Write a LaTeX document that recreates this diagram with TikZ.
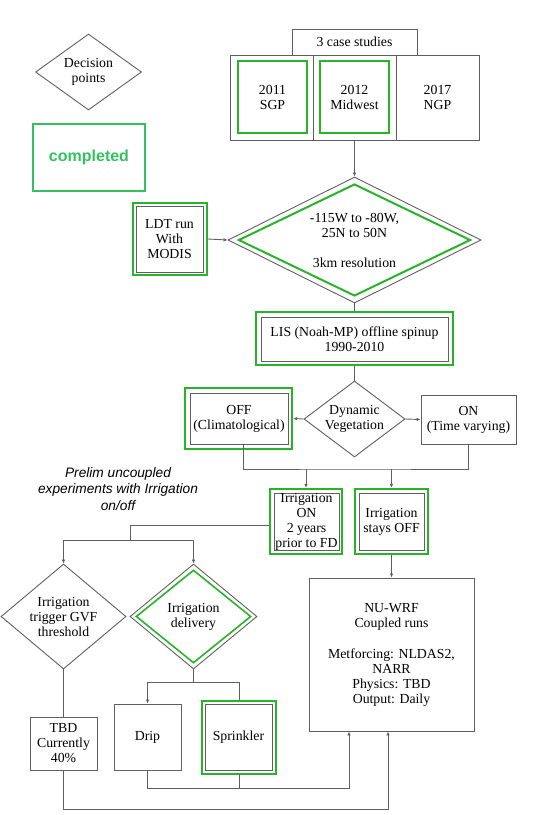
\documentclass[tikz,border=0pt]{standalone}
\usepackage{fontspec}
\setmainfont{Liberation Serif}
\setsansfont{Liberation Sans}
\usetikzlibrary{shapes.geometric,arrows.meta}
\definecolor{grn}{RGB}{40,180,40}
\definecolor{lgrn}{RGB}{50,195,95}
\definecolor{lgray}{RGB}{95,95,95}
\begin{document}
\begin{tikzpicture}[x=1pt,y=-1pt,
  txt/.style={font=\fontsize{13.8}{15}\selectfont,align=center,inner sep=0pt},
  gbox/.style={txt,draw=lgray,line width=0.9pt},
  gdone/.style={draw=grn,line width=2.2pt},
  dec/.style={txt,diamond,draw=lgray,line width=0.9pt},
  ln/.style={draw=lgray,line width=0.9pt},
  arr/.style={-{Latex[length=4pt,width=3.5pt]}}]
\useasboundingbox (0,0) rectangle (534,815);

\node[dec,aspect=1.4,minimum width=106pt,minimum height=76pt] (decpts) at (88.5,72) {Decision\\points};
\node[draw=lgrn,line width=1.3pt,minimum width=112pt,minimum height=67pt,text=lgrn,font=\sffamily\bfseries\fontsize{16}{18}\selectfont] (legdone) at (89,157.5) {completed};

\node[gbox,minimum width=125pt,minimum height=26pt] (cases) at (354.5,42) {3 case studies};
\node[gbox,minimum width=83pt,minimum height=85pt] (sgpcell) at (271.5,97.5) {};
\node[gbox,minimum width=83pt,minimum height=85pt] (mwcell) at (354.5,97.5) {};
\node[gbox,minimum width=83pt,minimum height=85pt] (ngp) at (437.5,97.5) {2017\\NGP};
\node[txt,gdone,minimum width=69pt,minimum height=72pt] (sgp) at (272.5,97) {2011\\SGP};
\node[txt,gdone,minimum width=69pt,minimum height=72pt] (mw) at (354.5,97) {2012\\Midwest};

\node[dec,minimum width=253pt,minimum height=126pt] (domainfr) at (354.5,240) {};
\node[dec,draw=grn,line width=2pt,aspect=2.07,minimum width=232pt,minimum height=112pt] (domain) at (354.5,240) {-115W to -80W,\\25N to 50N\\[15pt]3km resolution};
\draw[ln,arr] (mwcell.south) -- (domainfr.north);

\node[gbox,minimum width=67pt,minimum height=66pt] (ldt) at (169.5,239) {LDT run\\With\\MODIS};
\node[gdone,minimum width=74pt,minimum height=72pt] (ldtfr) at (170,239) {};
\draw[ln,arr] (ldtfr.east) -- (domainfr.west);

\node[gbox,minimum width=187pt,minimum height=44pt] (lis) at (354.5,339) {LIS (Noah-MP) offline spinup\\1990-2010};
\node[gdone,minimum width=197pt,minimum height=53pt] (lisfr) at (354.5,338.5) {};
\draw[ln] (domainfr.south) -- (lisfr.north);

\node[dec,aspect=1.33,minimum width=101pt,minimum height=76pt] (dynveg) at (354.5,419) {Dynamic\\Vegetation};
\draw[ln] (lisfr.south) -- (dynveg.north);

\node[gbox,minimum width=98pt,minimum height=51pt] (vegoff) at (239,418.5) {OFF\\(Climatological)};
\node[gdone,minimum width=107pt,minimum height=61pt] (vegofffr) at (238.5,418.5) {};
\node[gbox,minimum width=95pt,minimum height=49pt] (vegon) at (468.5,419.5) {ON\\(Time varying)};
\draw[ln,arr] (dynveg.west) -- (vegofffr.east);
\draw[ln,arr] (dynveg.east) -- (vegon.west);
\coordinate (vegjoin) at (355,469);
\draw[ln] ([xshift=4pt]vegoff.south) |- (vegjoin) -| (vegon.south);

\node[gbox,minimum width=65pt,minimum height=57pt] (irron) at (306.5,521.5) {Irrigation\\ON\\2 years\\prior to FD};
\node[gdone,minimum width=72pt,minimum height=65pt] (irronfr) at (306,521.5) {};
\node[gbox,minimum width=65pt,minimum height=57pt] (irroff) at (391.5,521.5) {Irrigation\\stays OFF};
\node[gdone,minimum width=73pt,minimum height=65pt] (irrofffr) at (391.5,521.5) {};
\draw[ln,arr] (irronfr.north |- vegjoin) -- (irronfr.north);
\draw[ln,arr] (irrofffr.north |- vegjoin) -- (irrofffr.north);

\node[font=\sffamily\itshape\fontsize{13.7}{16.5}\selectfont,align=center,inner sep=0pt] (prelim) at (118,489) {Prelim uncoupled\\experiments with Irrigation\\on/off};

\node[dec,aspect=1.19,minimum width=125pt,minimum height=105pt] (trig) at (63.5,616.5) {Irrigation\\trigger GVF\\threshold};
\node[dec,minimum width=127pt,minimum height=105pt] (deliv) at (193.5,616.5) {};
\node[dec,draw=grn,line width=1.6pt,aspect=1.24,minimum width=115pt,minimum height=93pt] (delivin) at (193.5,616.5) {Irrigation\\delivery};
\coordinate (irrsplit) at (130,540);
\draw[ln] ([yshift=-3.5pt]irronfr.west) -| (irrsplit);
\draw[ln,arr] (irrsplit) -| (trig.north);
\draw[ln,arr] (irrsplit) -| (deliv.north);

\node[gbox,minimum width=67pt,minimum height=53pt] (tbd) at (63.5,743.5) {TBD\\Currently\\40\%};
\draw[ln] (trig.south) -- (tbd.north);

\node[gbox,minimum width=67pt,minimum height=66pt] (drip) at (147.5,737) {Drip};
\node[gbox,minimum width=67pt,minimum height=66pt] (sprink) at (238.5,737) {Sprinkler};
\node[gdone,minimum width=74pt,minimum height=73pt] (sprinkfr) at (239,737.5) {};
\coordinate (delivsplit) at (193.5,682);
\draw[ln] (deliv.south) -- (delivsplit);
\draw[ln,arr] (delivsplit) -| (drip.north);
\draw[ln] (delivsplit) -| (sprinkfr.north);

\node[gbox,minimum width=165pt,minimum height=153pt] (nuwrf) at (391.5,654.5) {NU-WRF\\Coupled runs\\[16pt]Metforcing: NLDAS2,\\NARR\\Physics: TBD\\Output: Daily};
\draw[ln,arr] (irrofffr.south) -- (nuwrf.north);
\coordinate (lowjoin) at (349,788);
\coordinate (tbdjoin) at (388,809);
\draw[ln,arr] (drip.south) |- (lowjoin) -- (lowjoin |- nuwrf.south);
\draw[ln] (sprinkfr.south) -- (sprinkfr.south |- lowjoin);
\draw[ln,arr] (tbd.south) |- (tbdjoin) -- (tbdjoin |- nuwrf.south);
\end{tikzpicture}
\end{document}
